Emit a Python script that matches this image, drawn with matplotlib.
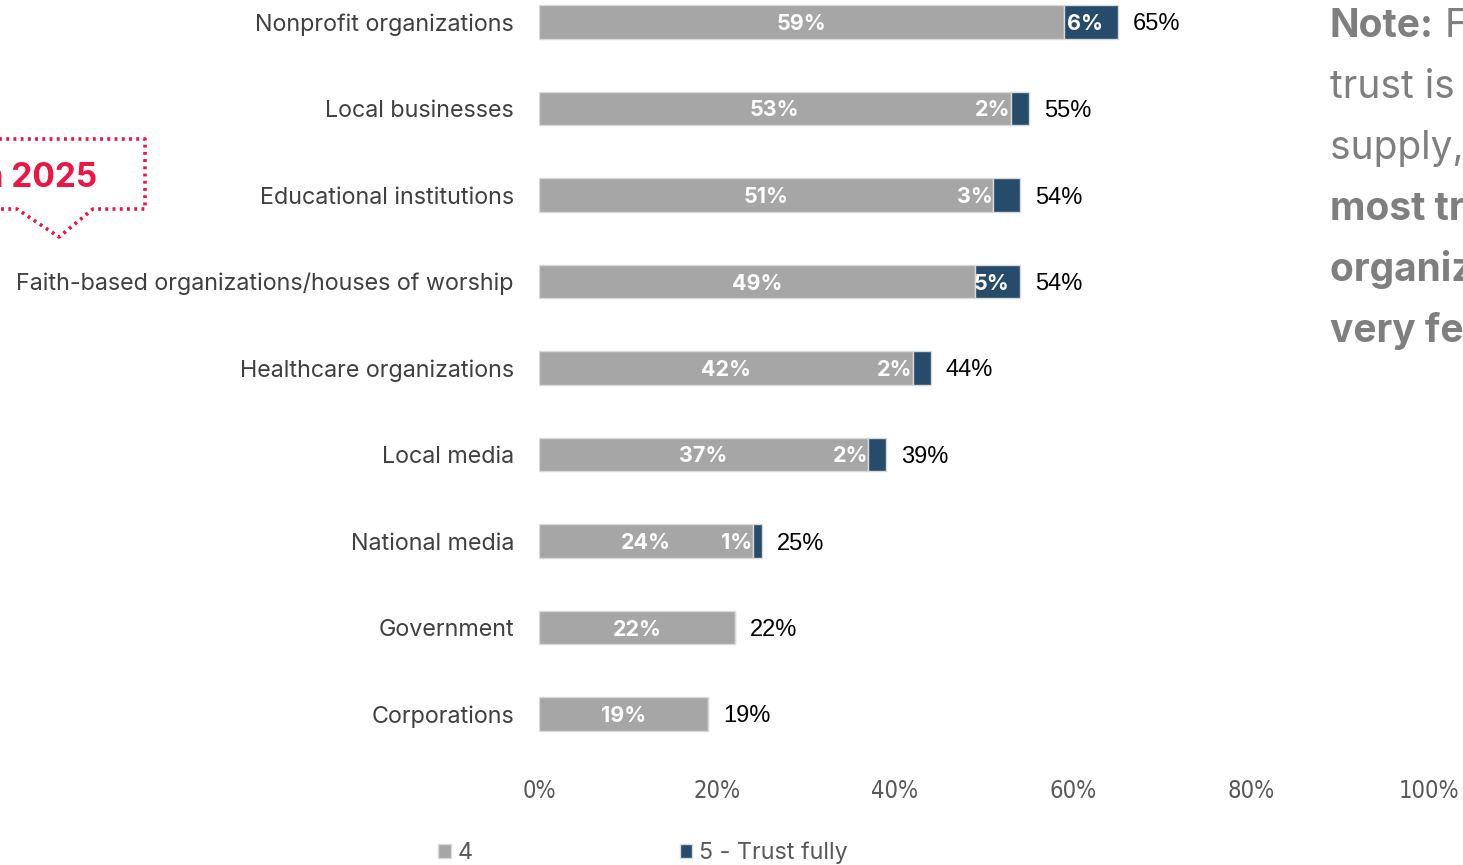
import matplotlib.pyplot as plt
from matplotlib.lines import Line2D

W, H = 1463, 865

categories = [
    "Nonprofit organizations",
    "Local businesses",
    "Educational institutions",
    "Faith-based organizations/houses of worship",
    "Healthcare organizations",
    "Local media",
    "National media",
    "Government",
    "Corporations",
]
trust_4 = [59, 53, 51, 49, 42, 37, 24, 22, 19]
trust_5 = [6, 2, 3, 5, 2, 2, 1, 0, 0]
series_names = ["4", "5 - Trust fully"]
xticks = [0, 20, 40, 60, 80, 100]

GRAY = "#A6A6A6"
NAVY = "#264B6B"
RED = "#EE1443"
NOTE = "#7F7F7F"
SANS = ["Inter", "DejaVu Sans"]


def fx(px):
    return px / W


def fy(py):
    return 1 - py / H


fig = plt.figure(figsize=(W / 100, H / 100), dpi=100)
fig.patch.set_facecolor("white")

# plot area: 0% at x=539, 100% at x=1429, rows spaced 86.5 px
ax = fig.add_axes([fx(539), fy(757.25), fx(1429) - fx(539), (757.25 + 21.25) / H])
ax.set_xlim(0, 100)
ax.set_ylim(len(categories) - 0.5, -0.5)

ypos = list(range(len(categories)))
bars4 = ax.barh(ypos, trust_4, height=0.39, color=GRAY, edgecolor="#D9D9D9",
                linewidth=1, label=series_names[0])
bars5 = ax.barh(ypos, trust_5, left=trust_4, height=0.39, color=NAVY,
                edgecolor="#D9D9D9", linewidth=1, label=series_names[1])

lab_font = dict(family=SANS, fontsize=15.5, color="white", fontweight="bold",
                va="center_baseline")
for i, (a, b) in enumerate(zip(trust_4, trust_5)):
    ax.text(a / 2, i, f"{a}%", ha="center", **lab_font)
    if b > 0:
        if b >= 5:
            ax.text(a + b / 2 - 0.7, i, f"{b}%", ha="center", **lab_font)
        else:
            ax.text(a, i, f"{b}%", ha="right", **lab_font)
    ax.annotate(f"{a + b}%", xy=(a + b, i), xytext=(11, 0), textcoords="offset points",
                ha="left", va="center_baseline", fontsize=17, color="black",
                family=["Liberation Sans", "DejaVu Sans"])

ax.set_yticks(ypos)
ax.set_yticklabels(categories, family=SANS, fontsize=16.8, color="#404040")
ax.set_xticks(xticks)
ax.set_xticklabels([f"{t}%" for t in xticks], family="DejaVu Sans", fontstretch="condensed",
                   fontsize=17, color="#595959")
ax.tick_params(axis="y", length=0, pad=18)
ax.tick_params(axis="x", length=0, pad=16)
for s in ax.spines.values():
    s.set_visible(False)

ax.legend(handles=[bars4, bars5], loc="center left",
          bbox_to_anchor=(fx(426), fy(853)), bbox_transform=fig.transFigure,
          ncol=2, frameon=False, borderpad=0, handlelength=0.55, handleheight=0.55,
          handletextpad=0.3, columnspacing=8.87,
          prop=dict(family=SANS, size=16.8), labelcolor="#595959")

# callout box on the left, dotted outline with a pointer
box_x = [-10, 145, 145, 93, 59, 17, -10]
box_y = [139, 139, 209, 209, 237, 209, 209]
fig.add_artist(Line2D([fx(v) for v in box_x], [fy(v) for v in box_y],
                      transform=fig.transFigure, color=RED, linewidth=2.6,
                      linestyle=(0, (0.8, 1.2))))
fig.text(fx(97), fy(187), "Trust in 2025", ha="right", va="baseline", color=RED,
         fontsize=24, fontweight="bold", family=SANS)

# side note, partly running past the right edge
note_font = dict(fontsize=28, color=NOTE, family=SANS)
t0 = fig.text(fx(1330), fy(37), "Note:", fontweight="bold", va="baseline", **note_font)
ax.annotate(" Full", xy=(1, 0), xycoords=t0, xytext=(0, 0), textcoords="offset points",
            ha="left", va="bottom", annotation_clip=False, **note_font)
note_lines = [("trust is in short", "normal"), ("supply, and even the", "normal"),
              ("most trusted", "bold"), ("organizations are", "bold"), ("very few", "bold")]
for k, (line, wt) in enumerate(note_lines):
    fig.text(fx(1330), fy(37 + 61 * (k + 1)), line, fontweight=wt, va="baseline", **note_font)

fig.savefig("out.png", dpi=100, facecolor="white")
